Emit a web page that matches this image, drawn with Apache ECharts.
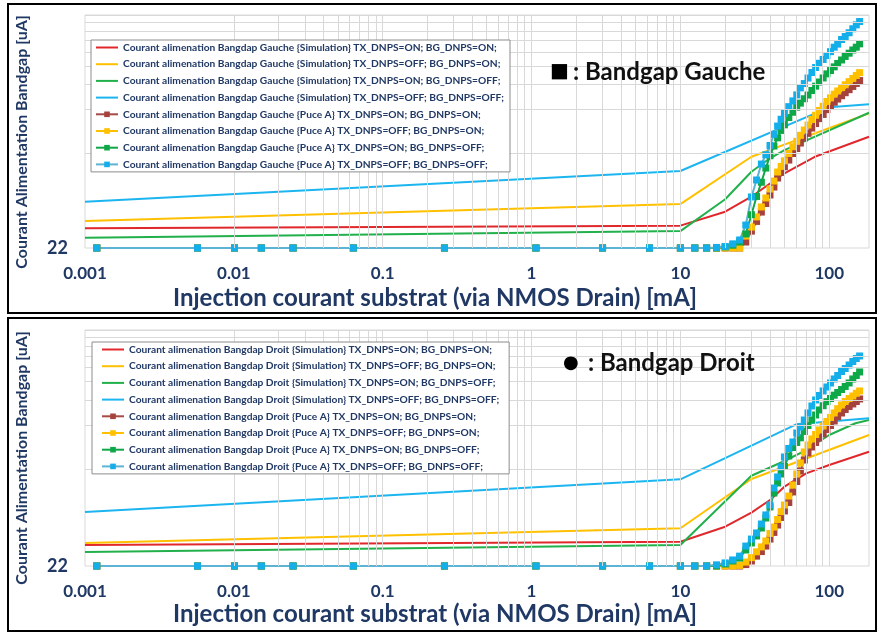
<!DOCTYPE html>
<html><head><meta charset="utf-8">
<script src="https://cdn.jsdelivr.net/npm/echarts@6/dist/echarts.min.js"></script>
<style>html,body{margin:0;padding:0;background:#fff}#c{width:878px;height:632px}</style>
</head><body><div id="c"></div><script>
// ---------- axis texts ----------
const xTickLabels = ['0.001','0.01','0.1','1','10','100'];
const yTickLabel = '22';
const xAxisTitle = 'Injection courant substrat (via NMOS Drain) [mA]';
const yAxisTitle = 'Courant Alimentation Bandgap [uA]';
const yGridValues = [100,200,300,400,500,600,700,800,900];
const labelTop = ': Bandgap Gauche';
const labelBottom = ': Bandgap Droit';

// ---------- series names ----------
const namesTop = [
 'Courant alimenation Bangdap Gauche {Simulation} TX_DNPS=ON; BG_DNPS=ON;',
 'Courant alimenation Bangdap Gauche {Simulation} TX_DNPS=OFF; BG_DNPS=ON;',
 'Courant alimenation Bangdap Gauche {Simulation} TX_DNPS=ON; BG_DNPS=OFF;',
 'Courant alimenation Bangdap Gauche {Simulation} TX_DNPS=OFF; BG_DNPS=OFF;',
 'Courant alimenation Bangdap Gauche {Puce A} TX_DNPS=ON; BG_DNPS=ON;',
 'Courant alimenation Bangdap Gauche {Puce A} TX_DNPS=OFF; BG_DNPS=ON;',
 'Courant alimenation Bangdap Gauche {Puce A} TX_DNPS=ON; BG_DNPS=OFF;',
 'Courant alimenation Bangdap Gauche {Puce A} TX_DNPS=OFF; BG_DNPS=OFF;'
];
const namesBottom = [
 'Courant alimenation Bangdap Droit {Simulation} TX_DNPS=ON; BG_DNPS=ON;',
 'Courant alimenation Bangdap Droit {Simulation} TX_DNPS=OFF; BG_DNPS=ON;',
 'Courant alimenation Bangdap Droit {Simulation} TX_DNPS=ON; BG_DNPS=OFF;',
 'Courant alimenation Bangdap Droit {Simulation} TX_DNPS=OFF; BG_DNPS=OFF;',
 'Courant alimenation Bangdap Droit {Puce A} TX_DNPS=ON; BG_DNPS=ON;',
 'Courant alimenation Bangdap Droit {Puce A} TX_DNPS=OFF; BG_DNPS=ON;',
 'Courant alimenation Bangdap Droit {Puce A} TX_DNPS=ON; BG_DNPS=OFF;',
 'Courant alimenation Bangdap Droit {Puce A} TX_DNPS=OFF; BG_DNPS=OFF;'
];

// ---------- simulation data (top: Gauche) ----------
const simTopRedX    = [0.001,10,20,30,50,80,185];
const simTopRedY    = [30.1,31.4,39.2,49.8,72.3,94.1,129.4];
const simTopYellowX = [0.001,10,30,185];
const simTopYellowY = [33.8,44.3,94.1,187.9];
const simTopGreenX  = [0.001,10,20,30,40,50,185];
const simTopGreenY  = [25.9,28.8,47.8,74.1,91.8,104.7,189.7];
const simTopBlueX   = [0.001,10,100,185];
const simTopBlueY   = [46.0,75.0,206.8,216.9];

// ---------- simulation data (bottom: Droit) ----------
const simBotRedX    = [0.001,10,20,30,40,50,70,100,185];
const simBotRedY    = [30.6,32.2,40.8,50.9,62.1,76.6,94.5,107.7,132.8];
const simBotYellowX = [0.001,10,30,185];
const simBotYellowY = [31.6,39.8,86.4,172.7];
const simBotGreenX  = [0.001,10,30,50,70,100,150,185];
const simBotGreenY  = [27.4,30.6,91.0,114.7,136.3,172.7,207.6,218.6];
const simBotBlueX   = [0.001,10,60,185];
const simBotBlueY   = [51.4,86.0,204.3,224.5];

// ---------- measured data (Puce A), shared injection currents ----------
const xPuce = [0.0012,0.0057,0.0101,0.0153,0.025,0.0635,0.26,1.07,3,6.2,
 10,12.5,15,17.5,20,22.5,25,27.5,30,32.5,35,37.5,40,42.5,45,47.5,50,53.5,57,60.5,64,68,72,76.5,81,86,91,96.5,102,108,114,121,128,136,144,152,160];

const puceTopRed = [22,22,22,22,22,22,22,22,22,22,
 22,22,22,22,22,22,22,24.2,28.8,33.6,39,44.7,51.2,58.1,67.1,73.3,80.2,89.3,99.1,107.3,117.1,126.8,136.6,148.7,159.7,172.8,184.7,199.3,211.1,224.3,235.9,248.7,261,274.1,288.4,302.5,316.7];
const puceTopYellow = [22,22,22,22,22,22,22,22,22,22,
 22,22,22,22,22,22,22,26.6,30.7,36.1,42.3,48.8,56.3,63.9,73.8,80.7,88.2,99.1,110.4,120.3,132.4,144,156,170.3,182.3,196.8,210.4,226.8,240.5,255,268.4,282.9,296.3,311.4,327.5,343.6,359.3];
const puceTopGreen = [22,22,22,22,22,22,22,22,22,22,
 22,22,22,22,22.4,23,24.2,27.5,37.4,50,62.7,78.6,95.6,111.6,127.2,143.1,156.5,175.7,191.2,207.1,221.1,237.1,251.5,270.5,289.7,309.4,330.1,352.4,371.5,393.9,415.9,439.8,465,489.9,515.7,539.1,568.3];
const puceTopBlue = [22,22,22,22,22,22,22,22,22,22,
 22,22,22,22.2,22.5,23.5,25,31.7,49.6,65,83.8,97.2,112.7,134.5,153.5,171,187.6,209,229,252,282,302,330,360,390,417,443,472,502,539,566,609,639,678,723,769,811];

const puceBotRed = [22,22,22,22,22,22,22,22,22,22,
 22,22,22,22,22,22,22,22.5,23.8,25.7,27.6,30.1,33.6,37.3,41.9,47.2,52.3,59.7,70.5,83.1,98,116.5,130.1,143,153.5,164.7,175.4,188.3,200.5,215.2,230.2,244.1,257.9,270.4,281.2,292.4,304.2];
const puceBotYellow = [22,22,22,22,22,22,22,22,22,22,
 22,22,22,22,22,22,22.2,23.4,25.1,27.5,29.7,32.6,36.7,40.6,45.7,51.7,57.4,66.1,78.6,93.5,111.2,132.2,147.5,162.2,174,186.8,199,213.5,227.4,244.1,261.1,276.7,292.4,306.5,318.8,332.7,345];
const puceBotGreen = [22,22,22,22,22,22,22,22,22,22,
 22,22,22,22,22.7,23.8,24.9,28.3,31.6,35.3,40,46.8,55.7,69.3,81.2,93.5,105.2,124.1,141.8,153.5,165.2,182.5,200.5,218.6,236.5,255.9,273.7,291.5,306.5,322.8,336.8,353.2,370.3,391.2,416.7,440.2,465.1];
const puceBotBlue = [22,22,22,22,22,22,22,22,22,22,
 22,22,22,22.4,23.1,24.2,25.7,30.1,33.6,37,42.6,49.1,57.4,75,89.2,104.4,122.2,139.6,154.7,178.2,195.8,218.6,244.1,272.4,299.5,321.4,345,367.3,391.2,416.7,440.2,468.8,491.4,519.2,548.6,575.2,598.2];

// ---------- styling ----------
const NAVY = '#203864';
const FONT = 'Lato';
const GRIDC = '#d9d9d9';
const simColors  = ['#E0282C','#FFC000','#22B04B','#1CB5F0'];
const puceLine   = ['#A84A46','#FFC000','#12A64A','#5DB3D3'];
const puceMarker = ['#A5423D','#FFC000','#0FA848','#14AEEA'];

const pairs = (xs, ys) => xs.map((x, i) => [x, ys[i]]);

function simSeries(name, xs, ys, ci, gi) {
  return { name, type:'line', xAxisIndex:gi, yAxisIndex:gi, data:pairs(xs, ys),
    symbol:'none', lineStyle:{color:simColors[ci], width:2}, itemStyle:{color:simColors[ci]},
    clip:false, animation:false, z:3 };
}
function puceSeries(name, ys, ci, gi) {
  return { name, type:'line', xAxisIndex:gi, yAxisIndex:gi, data:pairs(xPuce, ys),
    symbol:'rect', symbolSize:7, showAllSymbol:true,
    lineStyle:{color:puceLine[ci], width:2}, itemStyle:{color:puceMarker[ci], borderWidth:0},
    clip:false, animation:false, z:4 };
}
const xGridValues = [];
for (let e = -3; e <= 2; e++) for (let k = 1; k <= 9; k++) {
  const v = k * Math.pow(10, e);
  if (v < 185) xGridValues.push(+v.toPrecision(3));
}
function gridSeries(gi) {
  return { type:'line', xAxisIndex:gi, yAxisIndex:gi, data:[[0.001,22]], symbol:'none',
    lineStyle:{opacity:0}, silent:true, animation:false, z:1,
    markLine:{ silent:true, symbol:'none', animation:false, label:{show:false},
      lineStyle:{color:GRIDC, width:1, type:'solid'},
      data: xGridValues.map(v => ({xAxis:v})).concat(yGridValues.map(v => ({yAxis:v}))) } };
}

const grids = [
  {left:85, top:15, width:784, height:233},
  {left:85, top:330, width:784, height:236}
];
const xAxes = grids.map((g, i) => ({
  type:'log', logBase:10, gridIndex:i, min:0.001, max:185,
  axisLine:{show:false}, axisTick:{show:false}, splitLine:{show:false},
  axisLabel:{ color:NAVY, fontWeight:'bold', fontSize:17, fontFamily:FONT, margin:17,
    formatter: v => { const l = Math.log10(v), e = Math.round(l);
      return Math.abs(l - e) < 1e-6 && xTickLabels[e + 3] ? xTickLabels[e + 3] : ''; } }
}));
const yAxes = grids.map((g, i) => ({
  type:'log', logBase:10, gridIndex:i, min:22, max:900,
  axisLine:{show:false}, axisTick:{show:false}, splitLine:{show:false},
  axisLabel:{ color:NAVY, fontWeight:'bold', fontSize:18, fontFamily:FONT, margin:17,
    formatter: v => Math.abs(v - 22) < 0.5 ? yTickLabel : '' }
}));

const series = [
  gridSeries(0), gridSeries(1),
  simSeries(namesTop[0], simTopRedX, simTopRedY, 0, 0),
  simSeries(namesTop[1], simTopYellowX, simTopYellowY, 1, 0),
  simSeries(namesTop[2], simTopGreenX, simTopGreenY, 2, 0),
  simSeries(namesTop[3], simTopBlueX, simTopBlueY, 3, 0),
  puceSeries(namesTop[4], puceTopRed, 0, 0),
  puceSeries(namesTop[5], puceTopYellow, 1, 0),
  puceSeries(namesTop[6], puceTopGreen, 2, 0),
  puceSeries(namesTop[7], puceTopBlue, 3, 0),
  simSeries(namesBottom[0], simBotRedX, simBotRedY, 0, 1),
  simSeries(namesBottom[1], simBotYellowX, simBotYellowY, 1, 1),
  simSeries(namesBottom[2], simBotGreenX, simBotGreenY, 2, 1),
  simSeries(namesBottom[3], simBotBlueX, simBotBlueY, 3, 1),
  puceSeries(namesBottom[4], puceBotRed, 0, 1),
  puceSeries(namesBottom[5], puceBotYellow, 1, 1),
  puceSeries(namesBottom[6], puceBotGreen, 2, 1),
  puceSeries(namesBottom[7], puceBotBlue, 3, 1)
];

// simulation entries show a plain line in the legend (no marker)
const legendItems = names => names.map((n, i) => i < 4 ? {name:n, itemStyle:{opacity:0}} : {name:n});
const legendBase = {
  orient:'vertical', itemWidth:22, itemHeight:7, itemGap:3.7,
  backgroundColor:'#fff', borderColor:'#8c8c8c', borderWidth:1,
  textStyle:{color:NAVY, fontWeight:'bold', fontSize:10.2, fontFamily:FONT, lineHeight:13},
  selectedMode:false, z:10
};
const legends = [
  Object.assign({}, legendBase, {data:legendItems(namesTop), left:91, top:40, padding:[1,6,1,4]}),
  Object.assign({}, legendBase, {data:legendItems(namesBottom), left:92, top:342, padding:[1,10,1,9]})
];

const graphic = [
  {type:'rect', shape:{x:8, y:4, width:868, height:309}, style:{fill:'none', stroke:'#000', lineWidth:2}, silent:true},
  {type:'rect', shape:{x:8, y:318, width:868, height:313}, style:{fill:'none', stroke:'#000', lineWidth:2}, silent:true},
  {type:'text', x:22, y:142, rotation:Math.PI/2, silent:true,
    style:{text:yAxisTitle, font:'bold 16px ' + FONT, fill:NAVY, textAlign:'center', textVerticalAlign:'middle'}},
  {type:'text', x:22, y:458, rotation:Math.PI/2, silent:true,
    style:{text:yAxisTitle, font:'bold 16px ' + FONT, fill:NAVY, textAlign:'center', textVerticalAlign:'middle'}},
  {type:'text', x:435, y:298, silent:true,
    style:{text:xAxisTitle, font:'bold 24px ' + FONT, fill:NAVY, textAlign:'center', textVerticalAlign:'middle'}},
  {type:'text', x:435, y:614, silent:true,
    style:{text:xAxisTitle, font:'bold 24px ' + FONT, fill:NAVY, textAlign:'center', textVerticalAlign:'middle'}},
  {type:'text', x:550, y:72, silent:true, z:20,
    style:{text:'■', font:'20px "DejaVu Sans"', fill:'#000', textAlign:'left', textVerticalAlign:'middle'}},
  {type:'text', x:573, y:72, silent:true, z:20,
    style:{text:labelTop, font:'bold 24px ' + FONT, fill:'#111', textAlign:'left', textVerticalAlign:'middle'}},
  {type:'text', x:563, y:363, silent:true, z:20,
    style:{text:'●', font:'18px "DejaVu Sans"', fill:'#000', textAlign:'left', textVerticalAlign:'middle'}},
  {type:'text', x:588, y:363, silent:true, z:20,
    style:{text:labelBottom, font:'bold 24px ' + FONT, fill:'#111', textAlign:'left', textVerticalAlign:'middle'}}
];

const chart = echarts.init(document.getElementById('c'), null, {renderer:'canvas'});
chart.setOption({
  backgroundColor:'#fff', animation:false,
  grid: grids.map(g => Object.assign({show:true, borderColor:GRIDC, borderWidth:1, containLabel:false}, g)),
  xAxis: xAxes, yAxis: yAxes, legend: legends, series, graphic
});
</script></body></html>
